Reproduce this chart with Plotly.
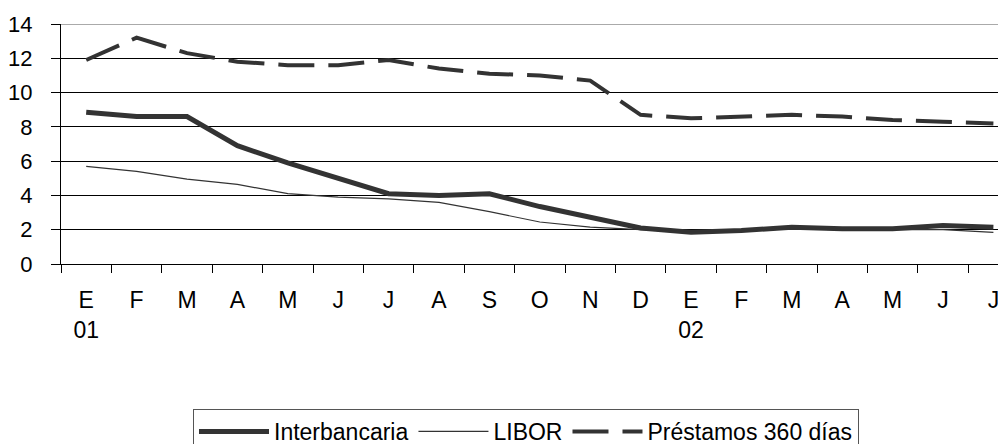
import plotly.graph_objects as go

months = ["E", "F", "M", "A", "M", "J", "J", "A", "S", "O", "N", "D",
          "E", "F", "M", "A", "M", "J", "J"]
years = ["01", "", "", "", "", "", "", "", "", "", "", "",
         "02", "", "", "", "", "", ""]
interbancaria = [8.85, 8.6, 8.6, 6.9, 5.9, 5.0, 4.1, 4.0, 4.1, 3.35, 2.7, 2.1,
                 1.85, 1.95, 2.15, 2.05, 2.05, 2.25, 2.15]
libor = [5.7, 5.4, 4.95, 4.65, 4.1, 3.9, 3.8, 3.6, 3.05, 2.45, 2.15, 2.0,
         1.95, 1.95, 2.05, 2.0, 2.0, 2.0, 1.85]
prestamos = [11.9, 13.2, 12.3, 11.8, 11.6, 11.6, 11.9, 11.4, 11.1, 11.0, 10.7, 8.7,
             8.5, 8.6, 8.7, 8.6, 8.4, 8.3, 8.2]
y_ticks = [0, 2, 4, 6, 8, 10, 12, 14]

xs = list(range(len(months)))
labels = [m + ("<br>" + y if y else "") for m, y in zip(months, years)]
boundaries = [i - 0.5 for i in range(len(months) + 1)]
xrange = [-0.5, len(months) - 0.75]

FONT = "Liberation Sans, Arial, sans-serif"
C = "#333333"

fig = go.Figure()
fig.add_trace(go.Scatter(x=xs, y=interbancaria, mode="lines", name="Interbancaria",
                         line=dict(color=C, width=5)))
fig.add_trace(go.Scatter(x=xs, y=libor, mode="lines", name="LIBOR",
                         line=dict(color=C, width=1.2)))
fig.add_trace(go.Scatter(x=xs, y=prestamos, mode="lines", name="Préstamos 360 días",
                         line=dict(color=C, width=4, dash="36px,14px")))
# invisible trace to carry the label axis
fig.add_trace(go.Scatter(x=xs, y=prestamos, xaxis="x2", mode="lines",
                         line=dict(width=0), showlegend=False, hoverinfo="skip",
                         opacity=0))

# the page body has an 8px default margin; margins below compensate for it
fig.update_layout(
    width=1006, height=444,
    margin=dict(l=53, r=8, t=16, b=188, autoexpand=False),
    paper_bgcolor="white", plot_bgcolor="white",
    font=dict(family=FONT, size=23, color="black"),
    showlegend=True,
    legend=dict(orientation="h", x=(185 - 53) / 945, xanchor="left",
                y=(256 - 401) / 240, yanchor="top",
                bordercolor="#555555", borderwidth=1,
                font=dict(family=FONT, size=23, color="black"),
                itemwidth=70, bgcolor="white"),
    xaxis=dict(range=xrange, tickmode="array", tickvals=boundaries,
               showticklabels=False, ticks="outside", ticklen=8, tickcolor="black",
               tickwidth=1, showgrid=False, zeroline=False,
               showline=True, linecolor="black", linewidth=1),
    xaxis2=dict(range=xrange, overlaying="x", anchor="y", side="bottom",
                tickmode="array", tickvals=xs, ticktext=labels,
                ticks="outside", ticklen=8, tickcolor="rgba(0,0,0,0)",
                ticklabelstandoff=7,
                showgrid=False, zeroline=False, showline=False,
                tickfont=dict(family=FONT, size=23, color="black")),
    yaxis=dict(range=[0, 14], tickmode="array", tickvals=y_ticks,
               ticks="outside", ticklen=9, tickcolor="black", tickwidth=1,
               ticklabelstandoff=14,
               showgrid=True, gridcolor="black", gridwidth=1,
               zeroline=False, showline=True, linecolor="black", linewidth=1,
               tickfont=dict(family=FONT, size=22, color="black")),
    shapes=[dict(type="line", xref="paper", yref="y", x0=0, x1=1, y0=14, y1=14,
                 line=dict(color="#aaaaaa", width=2), layer="above")],
)

fig.write_html("out.html")
